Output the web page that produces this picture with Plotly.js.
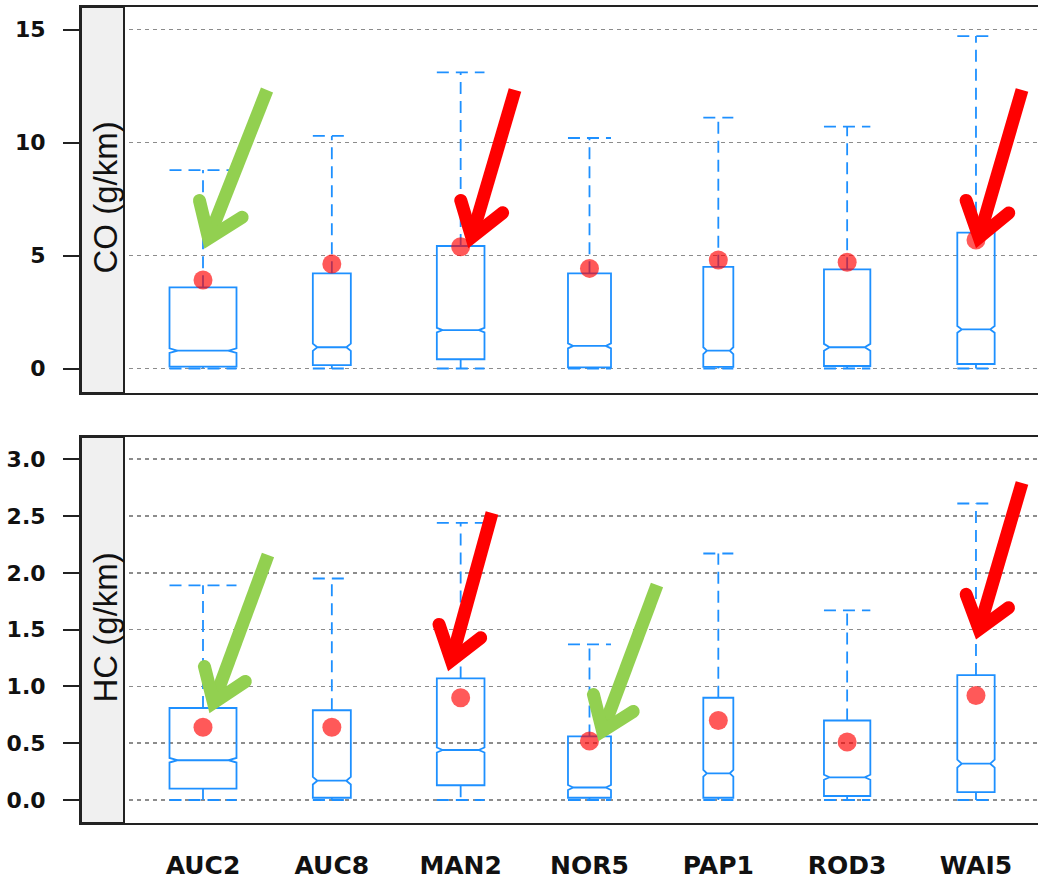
<!DOCTYPE html>
<html><head><meta charset="utf-8">
<script src="https://cdn.plot.ly/plotly-3.0.1.min.js"></script>
<style>html,body{margin:0;padding:0;background:#fff}#chart{width:1038px;height:883px}</style>
</head><body><div id="chart"></div>
<script>
// ---------------- data ----------------
const categories = ['AUC2','AUC8','MAN2','NOR5','PAP1','ROD3','WAI5'];
const boxWidths  = [0.52, 0.295, 0.37, 0.334, 0.233, 0.36, 0.29];

// CO (g/km)
const coMin    = [0, 0, 0, 0, 0, 0, 0];
const coQ1     = [0.08, 0.15, 0.41, 0.05, 0.07, 0.11, 0.20];
const coMedian = [0.79, 0.94, 1.70, 1.00, 0.79, 0.94, 1.73];
const coQ3     = [3.59, 4.21, 5.42, 4.21, 4.50, 4.39, 6.01];
const coMax    = [8.78, 10.29, 13.1, 10.2, 11.1, 10.7, 14.71];
const coNotch  = [0.10, 0.16, 0.10, 0.11, 0.15, 0.15, 0.15];
const coMean   = [3.92, 4.62, 5.39, 4.43, 4.80, 4.70, 5.69];

// HC (g/km)
const hcMin    = [0, 0, 0, 0, 0, 0, 0];
const hcQ1     = [0.10, 0.02, 0.13, 0.02, 0.02, 0.035, 0.07];
const hcMedian = [0.35, 0.17, 0.44, 0.11, 0.235, 0.20, 0.32];
const hcQ3     = [0.81, 0.79, 1.07, 0.56, 0.90, 0.70, 1.10];
const hcMax    = [1.89, 1.95, 2.44, 1.37, 2.17, 1.67, 2.61];
const hcNotch  = [0.02, 0.033, 0.022, 0.022, 0.03, 0.022, 0.035];
const hcMean   = [0.64, 0.64, 0.90, 0.52, 0.70, 0.51, 0.92];

const coTicks = [0, 5, 10, 15];
const hcTicks = [0, 0.5, 1.0, 1.5, 2.0, 2.5, 3.0];
const stripLabels = ['CO (g/km)', 'HC (g/km)'];

// ---------------- style ----------------
const BLUE = '#1E90FF';
const W = 1038, H = 883, ML = 81;
const positions = categories.map((_, i) => i + 1);

function whiskerTrace(q1, q3, lo, hi, xa, ya) {
  const xs = [], ys = [];
  positions.forEach((p, i) => {
    const h = boxWidths[i] / 2;
    xs.push(p, p, null, p, p, null, p - h, p + h, null, p - h, p + h, null);
    ys.push(q3[i], hi[i], null, q1[i], lo[i], null, hi[i], hi[i], null, lo[i], lo[i], null);
  });
  return {type:'scatter', mode:'lines', x:xs, y:ys, xaxis:xa, yaxis:ya,
    line:{color:BLUE, width:1.8, dash:'12px,7px'}, connectgaps:false,
    hoverinfo:'skip', showlegend:false};
}
function boxTraces(q1, med, q3, notch, xa, ya) {
  return positions.map((p, i) => ({
    type:'box', orientation:'v', x:[p], q1:[q1[i]], median:[med[i]], q3:[q3[i]],
    lowerfence:[q1[i]], upperfence:[q3[i]], notchspan:[notch[i]], notched:true,
    notchwidth:0.12, width:boxWidths[i], whiskerwidth:0, boxpoints:false,
    line:{color:BLUE, width:1.8}, fillcolor:'rgba(255,255,255,0)',
    xaxis:xa, yaxis:ya, showlegend:false, hoverinfo:'skip'}));
}
function meanTrace(m, xa, ya) {
  return {type:'scatter', mode:'markers', x:positions, y:m, xaxis:xa, yaxis:ya,
    marker:{size:19, color:'rgba(255,0,0,0.65)'}, hoverinfo:'skip', showlegend:false};
}

const data = [
  ...boxTraces(coQ1, coMedian, coQ3, coNotch, 'x2', 'y2'),
  ...boxTraces(hcQ1, hcMedian, hcQ3, hcNotch, 'x', 'y'),
  whiskerTrace(coQ1, coQ3, coMin, coMax, 'x2', 'y2'),
  whiskerTrace(hcQ1, hcQ3, hcMin, hcMax, 'x', 'y'),
  meanTrace(coMean, 'x2', 'y2'),
  meanTrace(hcMean, 'x', 'y')
];

// pixel -> paper helpers (for decorations only)
const PW = W - ML;
const px = v => (v - ML) / PW;
const py = v => (H - v) / H;

const xRange = [1 + (81 - 203) / 128.83, 1 + (1038 - 203) / 128.83];
const frame = {showline:true, linecolor:'#222', linewidth:2};
const xBase = Object.assign({range:xRange, showgrid:false, zeroline:false, fixedrange:true,
  tickvals:positions, ticktext:categories, mirror:true}, frame);
const yBase = Object.assign({showgrid:true, gridcolor:'#8c8c8c', gridwidth:1.5, griddash:'4px,4px',
  zeroline:false, ticks:'outside', ticklen:16, tickwidth:2, tickcolor:'#222',
  ticklabelstandoff:13, fixedrange:true,
  tickfont:{family:'DejaVu Sans', weight:'bold', size:22, color:'#111'}}, frame);

const shapes = [];
// strips
['y2 domain', 'y domain'].forEach((yr, k) => {
  shapes.push({type:'rect', xref:(k === 0 ? 'x2 domain' : 'x domain'), yref:yr,
    x0:0, x1:43 / PW, y0:0, y1:1, fillcolor:'#f0f0f0', line:{color:'#222', width:2}, layer:'above'});
});

// arrows (visible pixel extremes: tip, tail, left arm end, right arm end)
const GREEN = '#92D050', RED = '#FF0000';
const arrows = [
  {c:GREEN, tip:[203,252], tail:[267,90],  l:[199,194], r:[247,213]},
  {c:RED,   tip:[467,252], tail:[515,90],  l:[460,194], r:[507,208]},
  {c:RED,   tip:[975,252], tail:[1022,90], l:[965,194], r:[1013,208]},
  {c:GREEN, tip:[208,717], tail:[268,555], l:[204,660], r:[250,677]},
  {c:RED,   tip:[447,675], tail:[492,513], l:[438,618], r:[485,633]},
  {c:GREEN, tip:[597,745], tail:[657,585], l:[593,688], r:[638,707]},
  {c:RED,   tip:[975,643], tail:[1022,483],l:[965,588], r:[1013,603]}
];
const AW = 13, headIdx = [];
function unit(a, b) { const dx = b[0]-a[0], dy = b[1]-a[1], n = Math.hypot(dx, dy); return [dx/n, dy/n]; }
arrows.forEach(a => {
  const uL = unit(a.tip, a.l), uR = unit(a.tip, a.r);
  let bx = uL[0] + uR[0], by = uL[1] + uR[1]; const bn = Math.hypot(bx, by); bx /= bn; by /= bn;
  const th = Math.acos(uL[0]*uR[0] + uL[1]*uR[1]);
  const ext = (AW / 2) / Math.sin(th / 2);
  const v = [a.tip[0] + bx * ext, a.tip[1] + by * ext];
  const lE = [a.l[0] - uL[0] * AW / 2, a.l[1] - uL[1] * AW / 2];
  const rE = [a.r[0] - uR[0] * AW / 2, a.r[1] - uR[1] * AW / 2];
  const uS = unit(v, a.tail);
  const sEnd = [v[0] + uS[0] * 4, v[1] + uS[1] * 4];
  const P = p => px(p[0]).toFixed(5) + ',' + py(p[1]).toFixed(5);
  shapes.push({type:'path', xref:'paper', yref:'paper', layer:'above',
    path:'M' + P(a.tail) + 'L' + P(sEnd), line:{color:a.c, width:AW}});
  headIdx.push(shapes.length);
  shapes.push({type:'path', xref:'paper', yref:'paper', layer:'above',
    path:'M' + P(lE) + 'L' + P(v) + 'L' + P(rE), line:{color:a.c, width:AW}});
});

const annotations = [
  {text:stripLabels[0], x:px(105), y:py(197.5)},
  {text:stripLabels[1], x:px(105), y:py(627.5)}
].map(a => Object.assign(a, {xref:'paper', yref:'paper', showarrow:false, textangle:-90,
  xanchor:'center', yanchor:'middle', font:{family:'Liberation Sans', size:33, color:'#111'}}));

const layout = {
  width:W, height:H, margin:{l:ML, r:0, t:0, b:0},
  paper_bgcolor:'#fff', plot_bgcolor:'#fff', showlegend:false,
  xaxis:Object.assign({}, xBase, {anchor:'y', ticks:'', ticklabelstandoff:19,
    tickfont:{family:'DejaVu Sans', weight:'bold', size:25, color:'#111'}}),
  xaxis2:Object.assign({}, xBase, {anchor:'y2', showticklabels:false, ticks:''}),
  yaxis:Object.assign({}, yBase, {domain:[(H-823)/H, (H-437)/H],
    range:[-(823-800)/113.6, (800-437)/113.6], tickvals:hcTicks, tickformat:'.1f', anchor:'x'}),
  yaxis2:Object.assign({}, yBase, {domain:[(H-393)/H, (H-7)/H],
    range:[-(393-368.5)/22.6, (368.5-7)/22.6], tickvals:coTicks, anchor:'x2'}),
  shapes:shapes, annotations:annotations, boxmode:'overlay'
};

Plotly.newPlot('chart', data, layout, {staticPlot:true, displayModeBar:false}).then(() => {
  headIdx.forEach(i => {
    document.querySelectorAll('.shapelayer path[data-index="' + i + '"]').forEach(el => {
      el.style.strokeLinecap = 'round';
      el.style.strokeLinejoin = 'miter';
    });
  });
});
</script>
</body></html>
